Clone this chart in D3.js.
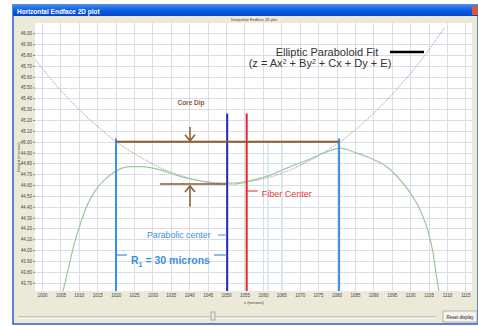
<!DOCTYPE html>
<html>
<head>
<meta charset="utf-8">
<title>Horizontal Endface 2D plot</title>
<style>
body { margin: 0; background: #fff; }
svg { display: block; font-family: "Liberation Sans", Arial, sans-serif; }
.grid line { stroke: #dcdce6; stroke-width: 1; shape-rendering: crispEdges; }
.grid path { stroke-width: 0; }
.axis text { font-size: 4.5px; fill: #444; }
.axis path { stroke: none; }
.axis line { stroke: #888; }
</style>
</head>
<body>
<script src="https://d3js.org/d3.v7.min.js"></script>
<script>

// tick labels (microns)
var xTicks = d3.range(24).map(function(i) { return 1000 + 5 * i; });
var yTicks = d3.range(24).map(function(i) { return +(46.0 - 0.1 * i).toFixed(2); });

// elliptic paraboloid fit
var fitX = [998.1, 1004.9, 1010.3, 1015.8, 1020.1, 1026.6, 1032.1, 1037.5, 1042.9, 1050.5,
            1059.2, 1067.4, 1075.5, 1081.0, 1089.1, 1097.3, 1102.7, 1109.5];
var fitY = [45.76, 45.48, 45.29, 45.12, 45.00, 44.86, 44.76, 44.69, 44.64, 44.62,
            44.65, 44.74, 44.88, 45.00, 45.23, 45.52, 45.74, 46.06];

// measured endface profile
var profX = [1005.7, 1007.1, 1008.7, 1010.3, 1012.5, 1014.9, 1017.7, 1020.7, 1023.9, 1027.4,
             1032.1, 1037.5, 1042.9, 1048.4, 1052.4, 1056.5, 1061.9, 1067.4, 1072.8, 1076.9,
             1081.0, 1085.1, 1089.1, 1093.2, 1096.7, 1100.0, 1102.7, 1104.9, 1106.3, 1107.1, 1107.9];
var profY = [43.62, 43.82, 44.05, 44.23, 44.43, 44.57, 44.67, 44.74, 44.77, 44.77,
             44.74, 44.68, 44.64, 44.61, 44.61, 44.64, 44.69, 44.77, 44.84, 44.90,
             44.94, 44.90, 44.85, 44.78, 44.67, 44.53, 44.37, 44.17, 43.96, 43.77, 43.60];

// annotation values
var r1Edges = [1020.1, 1080.7];        // R1 = 30 microns
var parabolicCenter = 1050.3;
var fiberCenter = 1055.6;
var faintLines = [1061.4, 1065.2];
var rimHeight = 45.00;
var dipHeight = 44.61;

var W = 478, H = 326;
var plot = {left: 35, right: 472, top: 23, bottom: 291};

var svg = d3.select("body").append("svg")
    .attr("width", W)
    .attr("height", H);

// window chrome
svg.append("rect").attr("x", 13).attr("y", 5).attr("width", W - 13).attr("height", 319)
    .attr("fill", "#ece9d8").attr("stroke", "#2a5fd0").attr("stroke-width", 1.5);
var grad = svg.append("defs").append("linearGradient")
    .attr("id", "tb").attr("x1", 0).attr("y1", 0).attr("x2", 0).attr("y2", 1);
grad.append("stop").attr("offset", "0%").attr("stop-color", "#3a8cf0");
grad.append("stop").attr("offset", "50%").attr("stop-color", "#0a5ae0");
grad.append("stop").attr("offset", "100%").attr("stop-color", "#0648c8");
svg.append("rect").attr("x", 13).attr("y", 5).attr("width", W - 13).attr("height", 11)
    .attr("fill", "url(#tb)");
svg.append("rect").attr("x", 472).attr("y", 6).attr("width", 6).attr("height", 9)
    .attr("fill", "#d8583a");
svg.append("text").attr("x", 17).attr("y", 13.5)
    .style("font-size", "6.5px").style("font-weight", "bold").attr("fill", "#fff")
    .text("Horizontal Endface 2D plot");
svg.append("text").attr("x", 254).attr("y", 20.5).attr("text-anchor", "middle")
    .style("font-size", "3.8px").attr("fill", "#444")
    .text("Interpolate Endface 2D plot");

// plot area
svg.append("rect").attr("x", plot.left).attr("y", plot.top)
    .attr("width", plot.right - plot.left).attr("height", plot.bottom - plot.top)
    .attr("fill", "#fff");

var x = d3.scaleLinear().domain([998.1, 1116.8]).range([plot.left, plot.right]);
var y = d3.scaleLinear().domain([43.623, 46.095]).range([plot.bottom, plot.top]);

// gridlines
svg.append("g").attr("class", "grid")
    .attr("transform", "translate(0," + plot.bottom + ")")
    .call(d3.axisBottom(x).tickValues(xTicks).tickSize(-(plot.bottom - plot.top)).tickFormat(""));
svg.append("g").attr("class", "grid")
    .attr("transform", "translate(" + plot.left + ",0)")
    .call(d3.axisLeft(y).tickValues(yTicks).tickSize(-(plot.right - plot.left)).tickFormat(""));

// axes
svg.append("g").attr("class", "axis")
    .attr("transform", "translate(0," + plot.bottom + ")")
    .call(d3.axisBottom(x).tickValues(xTicks).tickSize(0).tickPadding(3).tickFormat(d3.format("d")));
svg.append("g").attr("class", "axis")
    .attr("transform", "translate(" + plot.left + ",0)")
    .call(d3.axisLeft(y).tickValues(yTicks).tickSize(2).tickPadding(1).tickFormat(d3.format(".2f")));

svg.append("text").attr("x", 254).attr("y", 304).attr("text-anchor", "middle")
    .style("font-size", "4px").attr("fill", "#444").text("x (microns)");
svg.append("text")
    .attr("transform", "translate(20,157) rotate(-90)")
    .attr("text-anchor", "middle")
    .style("font-size", "4px").attr("fill", "#444").text("Height (microns)");

// clip
svg.append("clipPath").attr("id", "clip").append("rect")
    .attr("x", plot.left).attr("y", plot.top)
    .attr("width", plot.right - plot.left).attr("height", plot.bottom - plot.top);
var g = svg.append("g").attr("clip-path", "url(#clip)");

var line = d3.line().curve(d3.curveMonotoneX);

// faint vertical lines
faintLines.forEach(function(v) {
  g.append("line").attr("x1", x(v)).attr("x2", x(v))
      .attr("y1", y(45.0)).attr("y2", plot.bottom)
      .attr("stroke", "#cfe9ee").attr("stroke-width", 1.5);
});

// fit curve
g.append("path")
    .attr("d", line(fitX.map(function(d, i) { return [x(d), y(fitY[i])]; })))
    .attr("fill", "none").attr("stroke", "#9a9aa8").attr("stroke-width", 0.9)
    .attr("stroke-dasharray", "1.5,1");

// measured profile
g.append("path")
    .attr("d", line(profX.map(function(d, i) { return [x(d), y(profY[i])]; })))
    .attr("fill", "none").attr("stroke", "#9cc79a").attr("stroke-width", 1.2);

// R1 edges
r1Edges.forEach(function(v) {
  g.append("line").attr("x1", x(v)).attr("x2", x(v))
      .attr("y1", y(45.03)).attr("y2", plot.bottom)
      .attr("stroke", "#3b8fe2").attr("stroke-width", 2);
});

// centres
g.append("line").attr("x1", x(parabolicCenter)).attr("x2", x(parabolicCenter))
    .attr("y1", y(45.26)).attr("y2", plot.bottom)
    .attr("stroke", "#2828b0").attr("stroke-width", 2);
g.append("line").attr("x1", x(fiberCenter)).attr("x2", x(fiberCenter))
    .attr("y1", y(45.26)).attr("y2", plot.bottom)
    .attr("stroke", "#e02828").attr("stroke-width", 2);

// core dip bars
var brown = "#8b5a2b";
g.append("line").attr("x1", x(r1Edges[0])).attr("x2", x(r1Edges[1]))
    .attr("y1", y(rimHeight)).attr("y2", y(rimHeight))
    .attr("stroke", brown).attr("stroke-width", 2);
g.append("line").attr("x1", x(1032.1)).attr("x2", x(parabolicCenter))
    .attr("y1", y(dipHeight)).attr("y2", y(dipHeight))
    .attr("stroke", brown).attr("stroke-width", 1.5);

var ax = x(1040.2);
function arrow(y0, y1) {
  var dir = y1 > y0 ? -1 : 1;
  g.append("line").attr("x1", ax).attr("x2", ax).attr("y1", y0).attr("y2", y1)
      .attr("stroke", brown).attr("stroke-width", 1.5);
  g.append("path")
      .attr("d", "M" + (ax - 5) + "," + (y1 + dir * 6) + "L" + ax + "," + y1 + "L" + (ax + 5) + "," + (y1 + dir * 6))
      .attr("fill", "none").attr("stroke", brown).attr("stroke-width", 1.5);
}
arrow(y(45.135), y(rimHeight) - 1);
arrow(y(44.40), y(dipHeight) + 2);

svg.append("text").attr("x", ax + 1).attr("y", 105).attr("text-anchor", "middle")
    .style("font-size", "6.5px").style("font-weight", "bold").attr("fill", brown)
    .text("Core Dip");

// fiber centre label
g.append("line").attr("x1", x(fiberCenter)).attr("x2", x(fiberCenter) + 11)
    .attr("y1", 191).attr("y2", 191).attr("stroke", "#e02828").attr("stroke-width", 1);
svg.append("text").attr("x", x(fiberCenter) + 15).attr("y", 197)
    .style("font-size", "9px").attr("fill", "#e83a3a").text("Fiber Center");

// parabolic centre label
var blueText = "#3b8fe2";
svg.append("text").attr("x", 147).attr("y", 238)
    .style("font-size", "8.8px").attr("fill", blueText).text("Parabolic center");
g.append("line").attr("x1", 218).attr("x2", x(parabolicCenter))
    .attr("y1", 235).attr("y2", 235).attr("stroke", blueText).attr("stroke-width", 1);

// R1 label
g.append("line").attr("x1", x(r1Edges[0])).attr("x2", x(r1Edges[0]) + 11)
    .attr("y1", 255).attr("y2", 255).attr("stroke", blueText).attr("stroke-width", 1.2);
g.append("line").attr("x1", 214).attr("x2", x(parabolicCenter))
    .attr("y1", 255).attr("y2", 255).attr("stroke", blueText).attr("stroke-width", 1.2);
var r1 = svg.append("text").attr("x", 131).attr("y", 264)
    .style("font-size", "10.5px").style("font-weight", "bold").attr("fill", blueText);
r1.append("tspan").text("R");
r1.append("tspan").attr("dy", 3).style("font-size", "7px").text("1");
r1.append("tspan").attr("dy", -3).text(" = 30 microns");

// legend
svg.append("text").attr("x", 327).attr("y", 56).attr("text-anchor", "middle")
    .style("font-size", "11px").attr("fill", "#333").text("Elliptic Paraboloid Fit");
svg.append("line").attr("x1", 390).attr("x2", 424).attr("y1", 52).attr("y2", 52)
    .attr("stroke", "#000").attr("stroke-width", 2.5);
var eq = svg.append("text").attr("x", 320).attr("y", 67).attr("text-anchor", "middle")
    .style("font-size", "11px").attr("fill", "#333");
eq.append("tspan").text("(z = Ax");
eq.append("tspan").attr("dy", -3.5).style("font-size", "7px").text("2");
eq.append("tspan").attr("dy", 3.5).text(" + By");
eq.append("tspan").attr("dy", -3.5).style("font-size", "7px").text("2");
eq.append("tspan").attr("dy", 3.5).text(" + Cx + Dy + E)");

// slider and button
svg.append("line").attr("x1", 18).attr("x2", 436).attr("y1", 317).attr("y2", 317)
    .attr("stroke", "#a0a0a0").attr("stroke-width", 1);
svg.append("line").attr("x1", 18).attr("x2", 436).attr("y1", 318).attr("y2", 318)
    .attr("stroke", "#fff").attr("stroke-width", 1);
svg.append("rect").attr("x", 211).attr("y", 312).attr("width", 4).attr("height", 8)
    .attr("fill", "#ece9d8").attr("stroke", "#888").attr("stroke-width", 0.6);
svg.append("rect").attr("x", 443).attr("y", 311).attr("width", 34).attr("height", 11)
    .attr("fill", "#f4f3ee").attr("stroke", "#8a8a8a").attr("stroke-width", 0.6);
svg.append("text").attr("x", 460).attr("y", 318.5).attr("text-anchor", "middle")
    .style("font-size", "4.5px").attr("fill", "#222").text("Reset display");

</script>
</body>
</html>
